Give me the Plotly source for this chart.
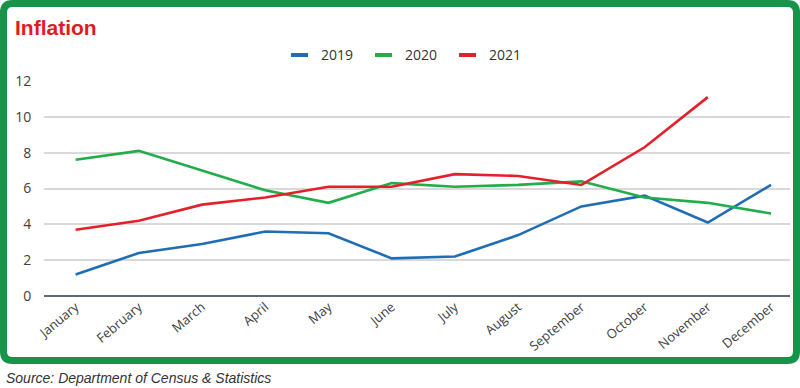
import plotly.graph_objects as go

months = ["January", "February", "March", "April", "May", "June", "July",
          "August", "September", "October", "November", "December"]
y2019 = [1.2, 2.4, 2.9, 3.6, 3.5, 2.1, 2.2, 3.4, 5.0, 5.6, 4.1, 6.2]
y2020 = [7.6, 8.1, 7.0, 5.9, 5.2, 6.3, 6.1, 6.2, 6.4, 5.5, 5.2, 4.6]
y2021 = [3.7, 4.2, 5.1, 5.5, 6.1, 6.1, 6.8, 6.7, 6.2, 8.3, 11.1]
series_names = ["2019", "2020", "2021"]
series_colors = ["#1f6db5", "#22ad4a", "#e3202c"]
yticks = [0, 2, 4, 6, 8, 10, 12]

W, H = 800, 388
ML, MR, MT, MB = 44, 10, 81, 92
PW = W - ML - MR
PH = H - MT - MB


def fx(px):
    return (px - ML) / PW


def fy(py):
    return (H - MB - py) / PH


fig = go.Figure()
xs = list(range(len(months)))
for name, vals, col in zip(series_names, [y2019, y2020, y2021], series_colors):
    fig.add_trace(go.Scatter(x=xs[:len(vals)], y=vals, mode="lines", name=name,
                             line=dict(color=col, width=2.6)))

# custom legend (short line symbols)
leg_x = [291, 375, 459]
for name, col, lx in zip(series_names, series_colors, leg_x):
    fig.add_shape(type="line", xref="paper", yref="paper",
                  x0=fx(lx), x1=fx(lx + 17), y0=fy(55), y1=fy(55),
                  line=dict(color=col, width=4))
    fig.add_annotation(text=name, xref="paper", yref="paper",
                       x=fx(lx + 28), y=fy(55), xanchor="left", yanchor="middle",
                       showarrow=False, font=dict(family="Open Sans", size=14, color="#333333"))

# rounded border path (pixel -> paper)
l, r, t, b, rad = 3.5, 796.5, 3.5, 360.5, 9
pts = (f"M {fx(l+rad)},{fy(t)} L {fx(r-rad)},{fy(t)} Q {fx(r)},{fy(t)} {fx(r)},{fy(t+rad)} "
       f"L {fx(r)},{fy(b-rad)} Q {fx(r)},{fy(b)} {fx(r-rad)},{fy(b)} "
       f"L {fx(l+rad)},{fy(b)} Q {fx(l)},{fy(b)} {fx(l)},{fy(b-rad)} "
       f"L {fx(l)},{fy(t+rad)} Q {fx(l)},{fy(t)} {fx(l+rad)},{fy(t)} Z")
fig.add_shape(type="path", path=pts, xref="paper", yref="paper",
              line=dict(color="#16954a", width=7), layer="above")

fig.add_annotation(text="<b>Inflation</b>",
                   xref="paper", yref="paper",
                   x=fx(13), y=fy(27), xanchor="left", yanchor="middle",
                   showarrow=False,
                   font=dict(family="Liberation Sans", size=21, color="#e01b24"))
fig.add_annotation(text="<i>Source: Department of Census &amp; Statistics</i>",
                   xref="paper", yref="paper",
                   x=fx(4), y=fy(378), xanchor="left", yanchor="middle",
                   showarrow=False,
                   font=dict(family="Liberation Sans", size=14, color="#333333"))

fig.update_layout(
    width=W, height=H,
    margin=dict(l=ML, r=MR, t=MT, b=MB),
    paper_bgcolor="white", plot_bgcolor="white",
    font=dict(family="Open Sans", color="#404040"),
    showlegend=False,
    xaxis=dict(tickmode="array", tickvals=xs, ticktext=months, range=[-0.5, 11.3],
               tickangle=-40, tickfont=dict(size=13, color="#404040"),
               showgrid=False, zeroline=False, showline=False, ticks="", automargin=False),
    yaxis=dict(tickmode="array", tickvals=yticks, range=[0, 12],
               tickfont=dict(size=14, color="#404040"),
               showgrid=True, gridcolor="#d9d9d9", gridwidth=1.5,
               zeroline=True, zerolinecolor="#5f6b73", zerolinewidth=1.5,
               ticks="outside", ticklen=9, tickcolor="white", automargin=False),
)

fig.write_html("out.html", post_script="document.body.style.margin='0';",
               config={"displayModeBar": False})
